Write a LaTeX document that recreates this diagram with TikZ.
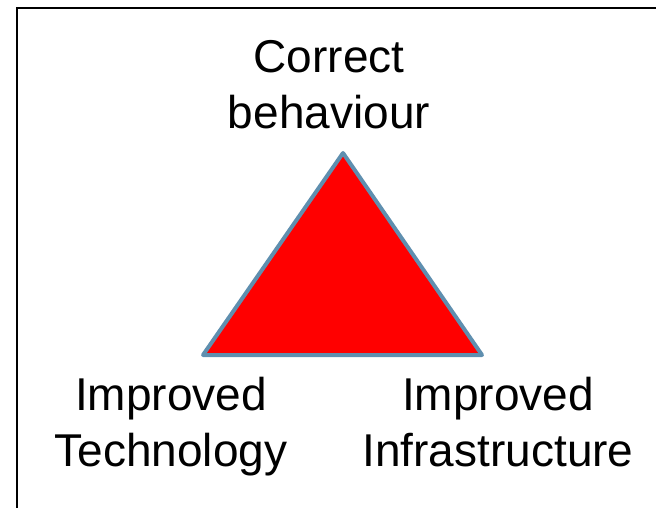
\documentclass[tikz,border=0pt]{standalone}
\usepackage{fontspec}
\setmainfont{Liberation Sans}
\definecolor{edgeblue}{RGB}{95,143,175}

\begin{document}
\begin{tikzpicture}[x=1pt, y=1pt,
	corner/.style={align=center, inner sep=0pt, anchor=north, font=\fontsize{46}{56}\selectfont}]
	\useasboundingbox (0,0) rectangle (656,507);
	\draw[line width=2pt] (17,-10) |- (670,499);
	\coordinate (top) at (343,354);
	\coordinate (left) at (203,152);
	\coordinate (right) at (482,152);
	\filldraw[fill=red, draw=edgeblue, line width=4pt, line join=round] (top) -- (right) -- (left) -- cycle;
	\node[corner] (behaviour) at (329,467) {Correct\\behaviour};
	\node[corner] (technology) at (171,130) {Improved\\Technology};
	\node[corner] (infrastructure) at (498,130) {Improved\\Infrastructure};
\end{tikzpicture}
\end{document}
